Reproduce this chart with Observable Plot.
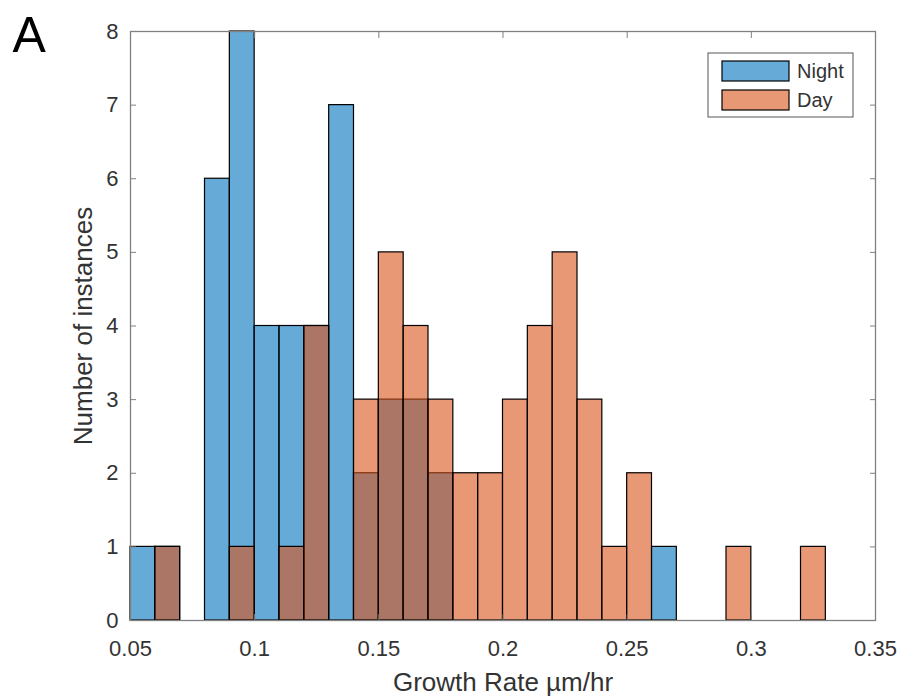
<!DOCTYPE html>
<html>
<head>
<meta charset="utf-8">
<script src="https://cdn.jsdelivr.net/npm/d3@7"></script>
<script src="https://cdn.jsdelivr.net/npm/@observablehq/plot@0.6"></script>
<style>
  html, body { margin: 0; padding: 0; background: #fff; }
  #chart { width: 901px; height: 700px; }
  svg { font-family: "Liberation Sans", Arial, sans-serif; }
</style>
</head>
<body>
<div id="chart"></div>
<script>
// Histogram bin edges (growth rate, µm/hr)
const binEdges = [0.05, 0.06, 0.07, 0.08, 0.09, 0.10, 0.11, 0.12, 0.13, 0.14, 0.15,
                  0.16, 0.17, 0.18, 0.19, 0.20, 0.21, 0.22, 0.23, 0.24, 0.25,
                  0.26, 0.27, 0.28, 0.29, 0.30, 0.31, 0.32, 0.33];
// Counts per bin
const nightCounts = [1, 1, 0, 6, 8, 4, 4, 4, 7, 2, 3, 3, 2, 0, 0, 0, 0, 0, 0, 0, 0, 1, 0, 0, 0, 0, 0, 0];
const dayCounts   = [0, 1, 0, 0, 1, 0, 1, 4, 0, 3, 5, 4, 3, 2, 2, 3, 4, 5, 3, 1, 2, 0, 0, 0, 1, 0, 0, 1];
const seriesNames = ["Night", "Day"];
const xTicks = [0.05, 0.1, 0.15, 0.2, 0.25, 0.3, 0.35];
const xTickLabels = ["0.05", "0.1", "0.15", "0.2", "0.25", "0.3", "0.35"];
const yTicks = [0, 1, 2, 3, 4, 5, 6, 7, 8];
const xLabel = "Growth Rate µm/hr";
const yLabel = "Number of instances";
const panelLabel = "A";

const nightColor = "#0072BD";
const dayColor = "#D95319";
const axisColor = "#808080";
const textColor = "#333333";

const toRows = counts => counts.map((c, i) => ({x1: binEdges[i], x2: binEdges[i + 1], count: c}))
  .filter(d => d.count > 0);
const nightRows = toRows(nightCounts);
const dayRows = toRows(dayCounts);

const tickFont = 22;
const labelFont = 26;

const chart = Plot.plot({
  width: 901,
  height: 700,
  marginLeft: 130,
  marginRight: 26,
  marginTop: 31,
  marginBottom: 80,
  style: {fontFamily: "'Liberation Sans', Arial, sans-serif", color: textColor, background: "#fff"},
  x: {domain: [0.05, 0.35], label: null},
  y: {domain: [0, 8], label: null},
  marks: [
    Plot.rectY(nightRows, {x1: "x1", x2: "x2", y1: 0, y2: "count", fill: nightColor, fillOpacity: 0.6, stroke: "#000", strokeWidth: 1.2, inset: 0}),
    Plot.rectY(dayRows, {x1: "x1", x2: "x2", y1: 0, y2: "count", fill: dayColor, fillOpacity: 0.6, stroke: "#000", strokeWidth: 1.2, inset: 0}),
    Plot.ruleY([0], {x1: binEdges[0], x2: binEdges[binEdges.length - 1], stroke: "#000", strokeWidth: 1.2}),
    Plot.frame({stroke: axisColor, strokeWidth: 1.3}),
    Plot.axisX({anchor: "bottom", ticks: xTicks, tickFormat: d => xTickLabels[xTicks.indexOf(d)], tickSize: -6, tickPadding: 26, fontSize: tickFont, stroke: axisColor, fill: textColor, label: null}),
    Plot.axisX({anchor: "top", ticks: xTicks, tickFormat: () => "", tickSize: -6, stroke: axisColor, label: null}),
    Plot.axisY({anchor: "left", ticks: yTicks, tickSize: -6, tickPadding: 18, fontSize: tickFont, stroke: axisColor, fill: textColor, label: null}),
    Plot.axisY({anchor: "right", ticks: yTicks, tickFormat: () => "", tickSize: -6, stroke: axisColor, label: null}),
    Plot.text([xLabel], {frameAnchor: "bottom", dy: 62, lineAnchor: "middle", textAnchor: "middle", text: d => d, fontSize: labelFont, fill: textColor}),
    Plot.text([yLabel], {frameAnchor: "left", dx: -47, rotate: -90, lineAnchor: "middle", textAnchor: "middle", text: d => d, fontSize: labelFont, fill: textColor}),
    Plot.text([panelLabel], {frameAnchor: "top-left", dx: -118, dy: -15, textAnchor: "start", lineAnchor: "top", text: d => d, fontSize: 50, fill: "#000"})
  ]
});

// Legend (boxed, top right inside the axes)
const svg = d3.select(chart);
const lg = svg.append("g").attr("transform", "translate(708,53)");
lg.append("rect").attr("x", 0).attr("y", 0).attr("width", 145).attr("height", 64)
  .attr("fill", "#fff").attr("stroke", "#555").attr("stroke-width", 1);
const legendColors = [nightColor, dayColor];
seriesNames.forEach((name, i) => {
  const y = 8 + i * 29;
  lg.append("rect").attr("x", 14).attr("y", y).attr("width", 67).attr("height", 20)
    .attr("fill", legendColors[i]).attr("fill-opacity", 0.6).attr("stroke", "#000").attr("stroke-width", 1.2);
  lg.append("text").attr("x", 89).attr("y", y + 10).attr("dy", "0.35em")
    .attr("text-anchor", "start")
    .attr("font-size", 20).attr("fill", textColor).text(name);
});

document.getElementById("chart").appendChild(chart);
</script>
</body>
</html>
